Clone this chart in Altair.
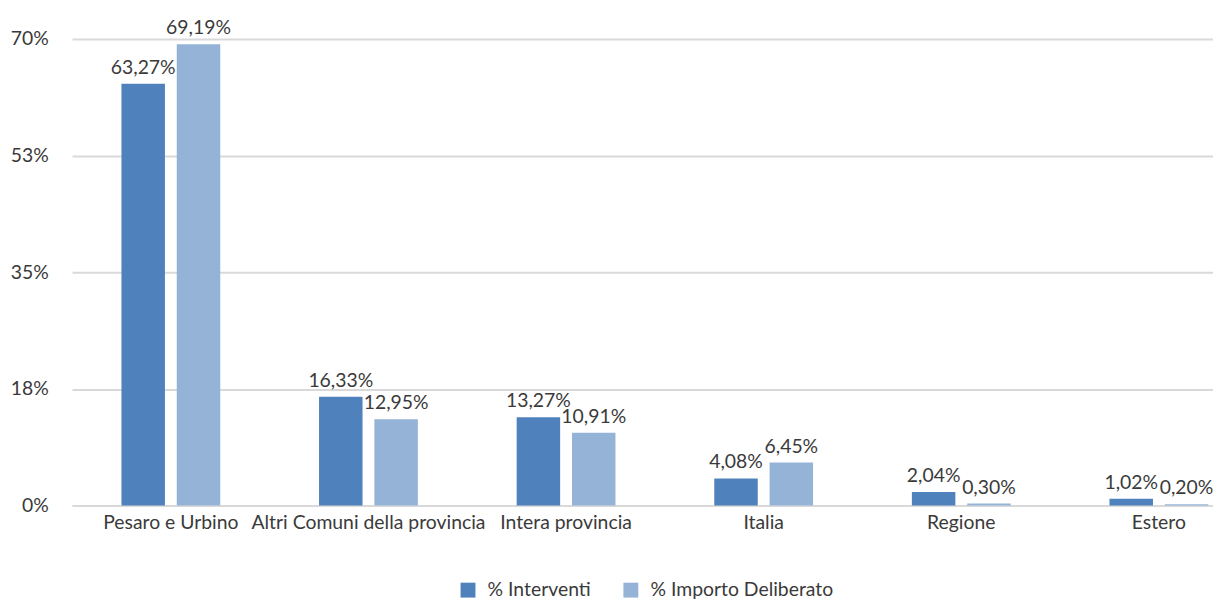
import altair as alt
import pandas as pd

categories = ["Pesaro e Urbino", "Altri Comuni della provincia", "Intera provincia",
              "Italia", "Regione", "Estero"]
interventi = [63.27, 16.33, 13.27, 4.08, 2.04, 1.02]
importo = [69.19, 12.95, 10.91, 6.45, 0.30, 0.20]
series = ["% Interventi", "% Importo Deliberato"]
colors = ["#4F81BD", "#95B3D7"]
y_ticks = [0, 17.5, 35, 52.5, 70]

rows = []
for c, a, b in zip(categories, interventi, importo):
    rows.append({"cat": c, "serie": series[0], "v": a})
    rows.append({"cat": c, "serie": series[1], "v": b})
df = pd.DataFrame(rows)

FONT = "Lato"
TXT = "#3A3A3A"
GRID = "#D9D9D9"
FS = 19.5

base = alt.Chart(df).transform_calculate(
    lab="replace(format(datum.v, '.2f'), '.', ',') + '%'"
).encode(
    x=alt.X("cat:N", sort=categories,
            scale=alt.Scale(range=[0, 1194], paddingInner=0.5, paddingOuter=0.25),
            axis=alt.Axis(title=None, labelAngle=0, labelFontSize=FS, labelFont=FONT,
                          labelColor=TXT, labelPadding=8, labelLimit=0, labelOverlap=False,
                          ticks=False, domain=True, domainColor=GRID, domainWidth=2)),
    xOffset=alt.XOffset("serie:N", sort=series,
                        scale=alt.Scale(paddingInner=0.214, paddingOuter=0)),
    y=alt.Y("v:Q", scale=alt.Scale(domain=[0, 70], nice=False, zero=True),
            axis=alt.Axis(title=None, values=y_ticks, labelExpr="round(datum.value) + '%'",
                          labelFontSize=FS, labelFont=FONT, labelColor=TXT, labelPadding=24,
                          ticks=False, domain=False, grid=True, gridColor=GRID, gridWidth=2)),
)

bars = base.mark_bar().encode(
    color=alt.Color("serie:N", sort=series,
                    scale=alt.Scale(domain=series, range=colors),
                    legend=alt.Legend(title=None, orient="none", legendX=389, legendY=545,
                                      direction="horizontal", symbolType="square",
                                      symbolSize=225, symbolStrokeWidth=0, labelLimit=0,
                                      labelFontSize=FS, labelFont=FONT, labelColor=TXT,
                                      labelOffset=10, columnPadding=30))
)

labels = base.mark_text(dy=-10, baseline="alphabetic", fontSize=FS, font=FONT,
                        color=TXT).encode(text="lab:N")

chart = alt.layer(bars, labels).properties(
    width=1146, height=470,
    autosize=alt.AutoSizeParams(type="none"),
    padding={"left": 64.5, "top": 29, "right": 3, "bottom": 100},
    background="white",
).configure_view(stroke=None)

chart.save("out.html", embed_options={"renderer": "svg", "actions": False})
